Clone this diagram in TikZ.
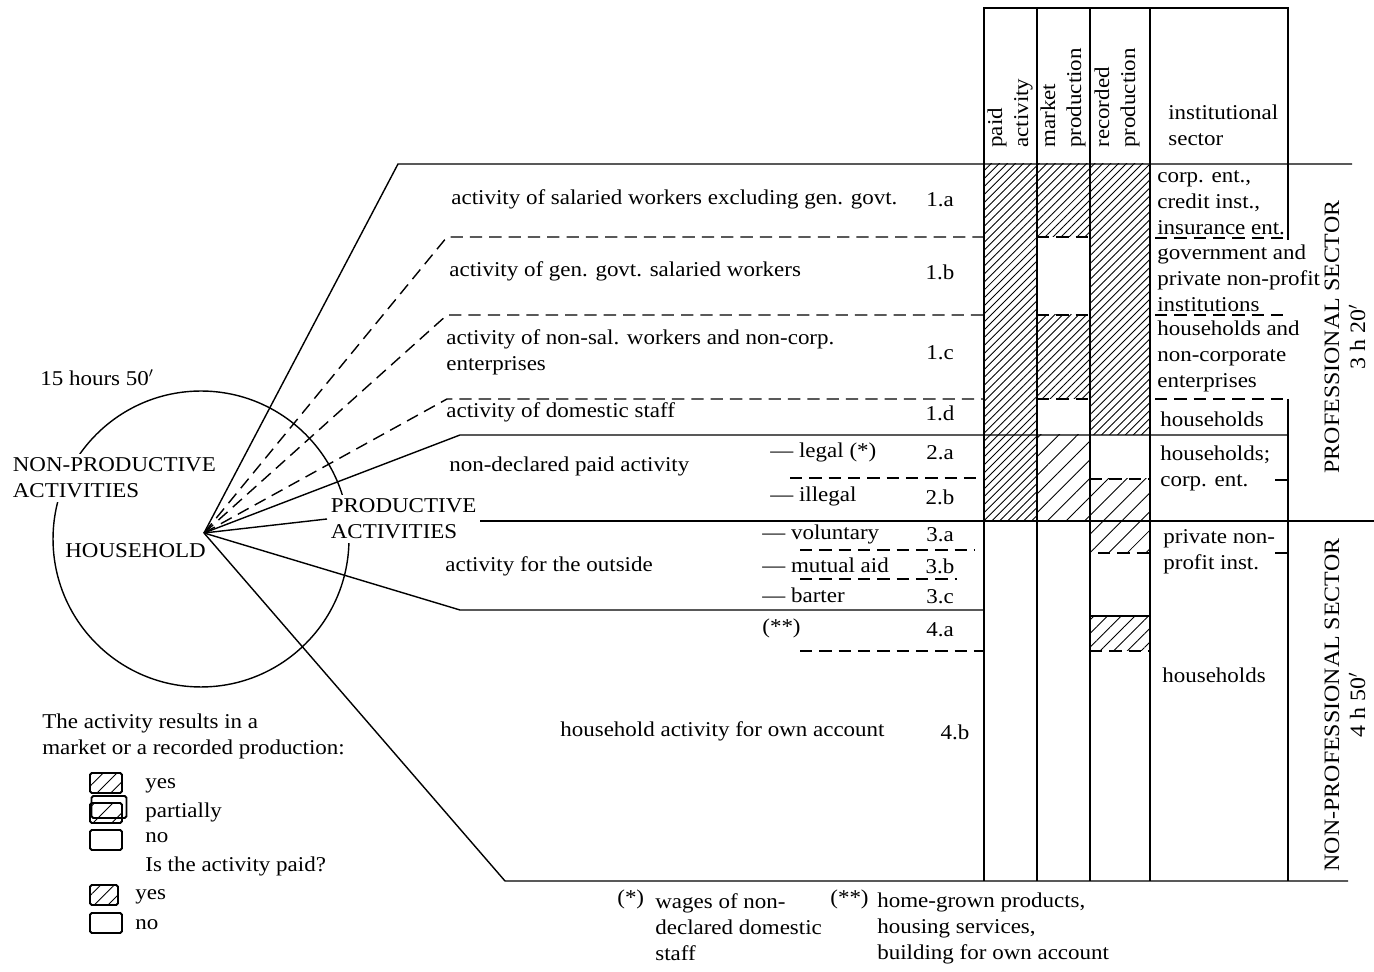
\documentclass[tikz,border=0pt]{standalone}
\usepackage{fontspec}
\setmainfont{Liberation Serif}[FakeStretch=1.09]
\usetikzlibrary{patterns.meta}
\tikzset{
      lbl/.style={anchor=west, inner sep=0pt, align=left, font=\fontsize{12}{14.8}\selectfont},
      code/.style={anchor=center, inner sep=0pt, font=\fontsize{12}{14.8}\selectfont},
      colhead/.style={lbl, rotate=90},
      sector/.style={rotate=90, inner sep=0pt, align=center, font=\fontsize{12.5}{14.8}\selectfont},
      frame/.style={line width=1.2pt},
      thin/.style={line width=0.8pt},
      dashline/.style={line width=0.8pt, dash pattern=on 7pt off 4pt},
      hatch/.style={pattern={Lines[angle=45,distance=3.2pt,line width=0.5pt]}},
      hatchmid/.style={pattern={Lines[angle=45,distance=5.5pt,line width=0.5pt]}},
      hatchwide/.style={pattern={Lines[angle=45,distance=7.5pt,line width=0.5pt]}},
      keybox/.style={draw, line width=1.1pt, rounded corners=1pt, minimum width=0.64cm, minimum height=0.4cm, inner sep=0pt}
    }
\begin{document}
\begin{tikzpicture}[x=0.02cm, y=-0.02cm]
    \useasboundingbox (0,0) rectangle (1374,972);
    % household
    \coordinate (o) at (204,533);
    \coordinate (secR) at (1374,521);
    \draw[thin] (201,539) circle[radius=2.96cm];
    \node[lbl] (hrs) at (40,378) {15 hours 50$'$};
    \node[lbl, fill=white, inner sep=2pt] (nonprod) at (9,478) {NON-PRODUCTIVE\\ACTIVITIES};
    \node[lbl] (hh) at (65,551) {HOUSEHOLD};
    \node[lbl, fill=white, inner sep=2pt] (prod) at (327,519) {PRODUCTIVE\\ACTIVITIES};

    % hatching of the table
    \path[hatch] (984,164) rectangle (1037,521);
    \path[hatch] (1037,164) rectangle (1090,237);
    \path[hatch] (1037,315) rectangle (1090,399);
    \path[hatchwide] (1037,435) rectangle (1090,521);
    \path[hatch] (1090,164) rectangle (1150,435);
    \path[hatchwide] (1090,479) rectangle (1150,553);
    \path[hatchmid] (1090,616) rectangle (1150,651);

    % fan of activities
    \draw[thin] (o) -- (398,164) -- (1352,164);
    \draw[dashline] (o) -- (447,237) -- (984,237);
    \draw[dashline] (o) -- (447,315) -- (984,315);
    \draw[dashline] (o) -- (447,399) -- (984,399);
    \draw[thin] (o) -- (460,435) -- (1288,435);
    \draw[thin] (o) -- (prod.west);
    \draw[thin] (prod.east |- secR) -- (secR);
    \draw[thin] (o) -- (460,610) -- (984,610);
    \draw[thin] (o) -- (505,881) -- (1348,881);

    % columns
    \draw[frame] (984,881) -- (984,8) -- (1288,8) -- (1288,240);
    \foreach \cx in {1037,1090,1150}
      \draw[frame] (\cx,8) -- (\cx,881);
    \draw[frame] (1288,399) -- (1288,881);

    % separators
    \draw[dashline] (1037,237) -- (1090,237);
    \draw[dashline] (1037,315) -- (1090,315);
    \draw[dashline] (1037,399) -- (1090,399);
    \draw[dashline] (1090,479) -- (1150,479);
    \draw[dashline] (1098,553) -- (1150,553);
    \draw[thin] (1090,616) -- (1150,616);
    \draw[dashline] (1090,651) -- (1150,651);
    \draw[dashline] (1155,238) -- (1285,238);
    \draw[dashline] (1155,315) -- (1288,315);
    \draw[dashline] (1155,399) -- (1288,399);
    \draw[thin] (1275,480) -- (1288,480);
    \draw[thin] (1275,553) -- (1288,553);
    \draw[dashline] (790,478) -- (984,478);
    \draw[dashline] (800,550) -- (975,550);
    \draw[dashline] (800,579) -- (957,579);
    \draw[dashline] (800,651) -- (984,651);

    % headers
    \node[colhead] (hpaid) at (1010,148) {paid\\activity};
    \node[colhead] (hmkt) at (1063,148) {market\\production};
    \node[colhead] (hrec) at (1117,148) {recorded\\production};
    \node[lbl] (hinst) at (1168,125) {institutional\\sector};

    % activities
    \node[lbl] (a1) at (451,199) {activity of salaried workers excluding gen. govt.};
    \node[code] (c1a) at (940,200) {1.a};
    \node[lbl] (a2) at (449,271) {activity of gen. govt. salaried workers};
    \node[code] (c1b) at (940,272) {1.b};
    \node[lbl] (a3) at (446,352) {activity of non-sal. workers and non-corp.\\enterprises};
    \node[code] (c1c) at (940,353) {1.c};
    \node[lbl] (a4) at (446,412) {activity of domestic staff};
    \node[code] (c1d) at (940,413) {1.d};
    \node[lbl] (a5) at (449,466) {non-declared paid activity};
    \node[lbl] (s2a) at (770,452) {— legal (*)};
    \node[code] (c2a) at (940,453) {2.a};
    \node[lbl] (s2b) at (770,496) {— illegal};
    \node[code] (c2b) at (940,497) {2.b};
    \node[lbl] (a6) at (445,566) {activity for the outside};
    \node[lbl] (s3a) at (762,534) {— voluntary};
    \node[code] (c3a) at (940,535) {3.a};
    \node[lbl] (s3b) at (762,565) {— mutual aid};
    \node[code] (c3b) at (940,566) {3.b};
    \node[lbl] (s3c) at (762,595) {— barter};
    \node[code] (c3c) at (940,597) {3.c};
    \node[lbl] (s4a) at (762,628) {(**)};
    \node[code] (c4a) at (940,630) {4.a};
    \node[lbl] (a7) at (560,731) {household activity for own account};
    \node[code] (c4b) at (955,732) {4.b};

    % institutional sectors
    \node[lbl] (i1) at (1157,203) {corp. ent.,\\credit inst.,\\insurance ent.};
    \node[lbl] (i2) at (1157,278) {government and\\private non-profit\\institutions};
    \node[lbl] (i3) at (1157,356) {households and\\non-corporate\\enterprises};
    \node[lbl] (i4) at (1160,419) {households};
    \node[lbl] (i5) at (1160,468) {households;\\corp. ent.};
    \node[lbl] (i6) at (1163,552) {private non-\\profit inst.};
    \node[lbl] (i7) at (1162,675) {households};
    \node[sector] (prof) at (1345,337) {PROFESSIONAL SECTOR\\3 h 20$'$};
    \node[sector] (nonprof) at (1345,705) {NON-PROFESSIONAL SECTOR\\4 h 50$'$};

    % legend
    \node[lbl] (keyq) at (42,736) {The activity results in a\\market or a recorded production:};
    \node[keybox, hatchmid] (kyes) at (106,783) {};
    \node[lbl] (tyes) at (145,786) {yes};
    \node[keybox, hatchwide] (kpart) at (106,813) {};
    \node[keybox, minimum width=0.7cm, minimum height=0.44cm] (kpart2) at (109,807) {};
    \node[lbl] (tpart) at (145,812) {partially};
    \node[keybox] (kno) at (106,840) {};
    \node[lbl] (tno) at (145,838) {no};
    \node[lbl] (tpaid) at (145,866) {Is the activity paid?};
    \node[keybox, hatchmid, minimum width=0.56cm] (kpy) at (104,895) {};
    \node[lbl] (tpy) at (135,897) {yes};
    \node[keybox] (kpn) at (106,923) {};
    \node[lbl] (tpn) at (135,925) {no};

    % footnotes
    \node[lbl] (fs1) at (617,899) {(*)};
    \node[lbl] (fn1) at (655,927) {wages of non-\\declared domestic\\staff};
    \node[lbl] (fs2) at (830,899) {(**)};
    \node[lbl] (fn2) at (877,928) {home-grown products,\\housing services,\\building for own account};
\end{tikzpicture}
\end{document}
